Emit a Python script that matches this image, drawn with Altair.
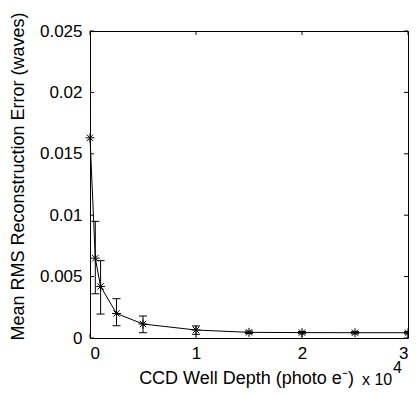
import altair as alt
import pandas as pd

# data
depth = [0, 500, 1000, 2500, 5000, 10000, 15000, 20000, 25000, 30000]
rms = [0.0163, 0.0065, 0.0042, 0.0020, 0.00114, 0.00065, 0.00046, 0.00044, 0.00043, 0.00043]
err_lo = [0.0163, 0.0036, 0.00195, 0.0010, 0.00043, 0.00030, 0.00036, 0.00035, 0.00034, 0.00034]
err_hi = [0.0163, 0.0095, 0.0063, 0.0032, 0.00179, 0.00098, 0.00056, 0.00053, 0.00052, 0.00052]

x_ticks = [0, 10000, 20000, 30000]
y_ticks = [0, 0.005, 0.01, 0.015, 0.02, 0.025]

W, H = 318, 307
FONT = "Liberation Sans"

df = pd.DataFrame({"depth": depth, "rms": rms, "lo": err_lo, "hi": err_hi})
df_err = df.iloc[1:]
xt = pd.DataFrame({"v": x_ticks})
yt = pd.DataFrame({"v": y_ticks})

xs = alt.Scale(domain=[0, 30000], nice=False, zero=False)
ys = alt.Scale(domain=[0, 0.025], nice=False, zero=False)

x_axis = alt.Axis(values=x_ticks, labelExpr="datum.value / 10000", ticks=False, domain=False,
                  grid=False, labelPadding=7, labelFontSize=17, labelFont=FONT,
                  title="CCD Well Depth (photo e\u207b)", titleFontSize=18, titleFont=FONT,
                  titleFontWeight="normal", titleX=156, titleY=45, titleBaseline="alphabetic",
                  titleAlign="center", labelColor="black", titleColor="black")
y_axis = alt.Axis(values=y_ticks, labelExpr="format(datum.value, '~g')", ticks=False, domain=False,
                  grid=False, labelPadding=8, labelFontSize=17, labelFont=FONT,
                  title="Mean RMS Reconstruction Error (waves)", titleFontSize=18, titleFont=FONT,
                  titleFontWeight="normal", titleX=-72, titleY=145, titleBaseline="middle",
                  titleAlign="center", titleAngle=270, labelColor="black", titleColor="black")

base = alt.Chart(df)

line = base.mark_line(color="black", strokeWidth=1).encode(
    x=alt.X("depth:Q", scale=xs, axis=x_axis),
    y=alt.Y("rms:Q", scale=ys, axis=y_axis),
)

asterisk = "M-1,0H1M0,-1V1M-0.7,-0.7L0.7,0.7M-0.7,0.7L0.7,-0.7"
points = base.mark_point(shape=asterisk, size=81, filled=False, color="black",
                         strokeWidth=1, opacity=1).encode(
    x=alt.X("depth:Q", scale=xs), y=alt.Y("rms:Q", scale=ys))

eb = alt.Chart(df_err)
err_v = eb.mark_rule(color="black", strokeWidth=1).encode(
    x=alt.X("depth:Q", scale=xs), y=alt.Y("lo:Q", scale=ys), y2="hi:Q")
cap_lo = eb.mark_tick(orient="horizontal", size=8, thickness=1, color="black", opacity=1).encode(
    x=alt.X("depth:Q", scale=xs), y=alt.Y("lo:Q", scale=ys))
cap_hi = eb.mark_tick(orient="horizontal", size=8, thickness=1, color="black", opacity=1).encode(
    x=alt.X("depth:Q", scale=xs), y=alt.Y("hi:Q", scale=ys))

tx = alt.Chart(xt)
xtick_b = tx.mark_rule(color="black", strokeWidth=1).encode(
    x=alt.X("v:Q", scale=xs), y=alt.value(H), y2=alt.value(H - 4))
xtick_t = tx.mark_rule(color="black", strokeWidth=1).encode(
    x=alt.X("v:Q", scale=xs), y=alt.value(0), y2=alt.value(4))
ty = alt.Chart(yt)
ytick_l = ty.mark_rule(color="black", strokeWidth=1).encode(
    y=alt.Y("v:Q", scale=ys), x=alt.value(0), x2=alt.value(4))
ytick_r = ty.mark_rule(color="black", strokeWidth=1).encode(
    y=alt.Y("v:Q", scale=ys), x=alt.value(W), x2=alt.value(W - 4))

exp_base = alt.Chart(pd.DataFrame({"t": ["x 10"]})).mark_text(
    align="left", baseline="alphabetic", fontSize=16, font=FONT, color="black").encode(
    text="t:N", x=alt.value(272), y=alt.value(354))
exp_pow = alt.Chart(pd.DataFrame({"t": ["4"]})).mark_text(
    align="left", baseline="alphabetic", fontSize=16, font=FONT, color="black").encode(
    text="t:N", x=alt.value(303), y=alt.value(342))

chart = alt.layer(
    line, err_v, cap_lo, cap_hi, points,
    xtick_b, xtick_t, ytick_l, ytick_r, exp_base, exp_pow
).properties(
    width=W, height=H,
    autosize=alt.AutoSizeParams(type="none"),
    padding={"left": 82, "top": 23, "right": 1, "bottom": 51},
    background="white",
).configure_view(stroke="black", strokeWidth=1)

chart.save("out.html", embed_options={"renderer": "svg", "actions": False})
